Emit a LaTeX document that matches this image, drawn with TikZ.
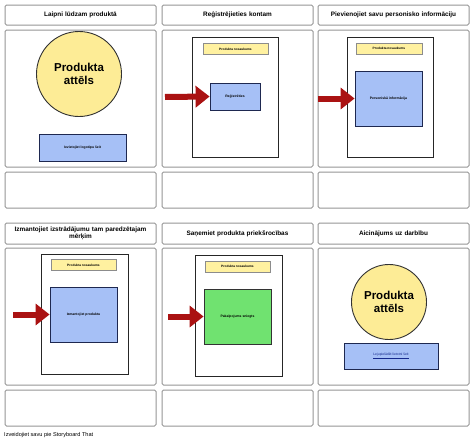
\documentclass[tikz,border=0pt]{standalone}
\usepackage{fontspec}
\setmainfont{Liberation Sans}
\usepackage{tikz}
\usetikzlibrary{arrows.meta,positioning}
\definecolor{sbgrey}{RGB}{150,150,150}
\definecolor{sbyellow}{RGB}{253,236,150}
\definecolor{sblightyellow}{RGB}{255,241,160}
\definecolor{sbblue}{RGB}{166,192,246}
\definecolor{sbnavy}{RGB}{30,40,80}
\definecolor{sbgreen}{RGB}{112,226,112}
\definecolor{sbred}{RGB}{170,18,18}
\definecolor{sblink}{RGB}{20,40,140}
\tikzstyle{frame} = [rectangle, rounded corners=1.5pt, draw=sbgrey, line width=1pt, fill=white, minimum width=151pt, inner sep=0pt]
\tikzstyle{title} = [frame, minimum height=20pt, font=\fontsize{6.4}{7.2}\selectfont\bfseries, text width=148pt, align=center]
\tikzstyle{page} = [rectangle, draw=black!85, line width=0.8pt, fill=white]
\tikzstyle{namebar} = [rectangle, draw=black!45, line width=0.5pt, fill=sblightyellow, minimum height=11pt, font=\fontsize{3.2}{4}\selectfont\bfseries]
\tikzstyle{field} = [rectangle, draw=sbnavy, line width=0.8pt, fill=sbblue, font=\fontsize{3.4}{4}\selectfont\bfseries]
\tikzstyle{picture} = [circle, draw=black!80, line width=0.9pt, fill=sbyellow, align=center, font=\fontsize{11.5}{12.5}\selectfont\bfseries]
\tikzstyle{pointer} = [line width=6pt, color=sbred, -{Triangle[length=14pt,width=21pt]}]

\begin{document}
\begin{tikzpicture}[x=1pt, y=-1pt]
\useasboundingbox[fill=white] (0,0) rectangle (474,442);
% Row 1 frames
\node (t1) [title] at (80.5,15) {Laipni lūdzam produktā};
\node (t2) [title] at (237.5,15) {Reģistrējieties kontam};
\node (t3) [title] at (393.5,15) {Pievienojiet savu personisko informāciju};
\node (p1) [frame, minimum height=137pt] at (80.5,98.5) {};
\node (p2) [frame, minimum height=137pt] at (237.5,98.5) {};
\node (p3) [frame, minimum height=137pt] at (393.5,98.5) {};
\node (n1) [frame, minimum height=36pt] at (80.5,190) {};
\node (n2) [frame, minimum height=36pt] at (237.5,190) {};
\node (n3) [frame, minimum height=36pt] at (393.5,190) {};

% Row 2 frames
\node (t4) [title, minimum height=21pt] at (80.5,233.5) {Izmantojiet izstrādājumu tam paredzētajam\\mērķim};
\node (t5) [title, minimum height=21pt] at (237.5,233.5) {Saņemiet produkta priekšrocības};
\node (t6) [title, minimum height=21pt] at (393.5,233.5) {Aicinājums uz darbību};
\node (p4) [frame, minimum height=137pt] at (80.5,316.5) {};
\node (p5) [frame, minimum height=137pt] at (237.5,316.5) {};
\node (p6) [frame, minimum height=137pt] at (393.5,316.5) {};
\node (n4) [frame, minimum height=36pt] at (80.5,408) {};
\node (n5) [frame, minimum height=36pt] at (237.5,408) {};
\node (n6) [frame, minimum height=36pt] at (393.5,408) {};

% Panel 1
\node (img1) [picture, minimum size=85pt] at (79,74) {Produkta\\attēls};
\node (logo) [field, minimum width=87pt, minimum height=27pt] at (82.5,147.5) {Ievietojiet logotipu šeit};

% Panel 2
\node (pg2) [page, minimum width=86pt, minimum height=120pt] at (235,97) {};
\node (nm2) [namebar, minimum width=65pt] at (235.5,49) {Produkta nosaukums};
\node (reg) [field, minimum width=50pt, minimum height=27pt] at (235,96.5) {Reģistrēties};
\coordinate (a2) at (165,97);
\draw[pointer] (a2) -- (reg.west);

% Panel 3
\node (pg3) [page, minimum width=86pt, minimum height=120pt] at (390,97) {};
\node (nm3) [namebar, minimum width=66pt] at (389,48.5) {Produkta nosaukums};
\node (info) [field, minimum width=67pt, minimum height=55pt] at (388.5,98.5) {Personiskā informācija};
\coordinate (a3) at (318,98.5);
\draw[pointer] (a3) -- (info.west);

% Panel 4
\node (pg4) [page, minimum width=87pt, minimum height=120pt] at (84.5,314) {};
\node (nm4) [namebar, minimum width=65pt] at (83.5,265) {Produkta nosaukums};
\node (use) [field, minimum width=67pt, minimum height=55pt] at (83.5,314.5) {Izmantojiet produktu};
\coordinate (a4) at (13,314.5);
\draw[pointer] (a4) -- (use.west);

% Panel 5
\node (pg5) [page, minimum width=87pt, minimum height=121pt] at (238.5,315.5) {};
\node (nm5) [namebar, minimum width=65pt] at (237.5,266.5) {Produkta nosaukums};
\node (serv) [field, fill=sbgreen, draw=black!80, minimum width=67pt, minimum height=55pt] at (237.5,316.5) {Pakalpojums sniegts};
\coordinate (a5) at (168,316.5);
\draw[pointer] (a5) -- (serv.west);

% Panel 6
\node (img6) [picture, minimum size=75pt] at (389,302) {Produkta\\attēls};
\node (app) [field, minimum width=94pt, minimum height=26pt, font=\fontsize{3.4}{4}\selectfont, text=sblink] at (391,356) {\underline{Lejupielādēt lietotni šeit}};

% Footer
\node (foot) [anchor=west, inner sep=0pt, font=\fontsize{5.6}{6}\selectfont] at (4,435) {Izveidojiet savu pie Storyboard That};
\end{tikzpicture}
\end{document}
